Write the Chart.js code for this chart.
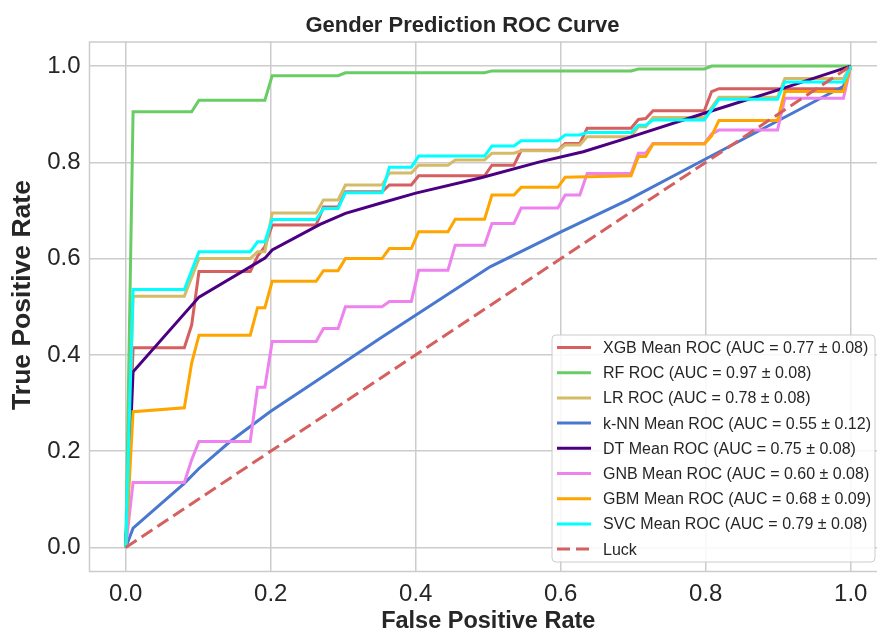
<!DOCTYPE html>
<html>
<head>
<meta charset="utf-8">
<title>Gender Prediction ROC Curve</title>
<script src="https://cdn.jsdelivr.net/npm/chart.js@4.4.1/dist/chart.umd.min.js"></script>
<style>
  html, body { margin: 0; padding: 0; background: #fff; overflow: hidden; }
  #wrap { width: 877px; height: 633px; overflow: hidden; }
  #box { width: 900px; height: 633px; position: relative; }
</style>
</head>
<body>
<div id="wrap"><div id="box"><canvas id="rocChart"></canvas></div></div>
<script>
// values (mean ROC, fpr / tpr pairs)
const xgbFpr = [0, 0.0101, 0.0808, 0.0909, 0.101, 0.1717, 0.1818, 0.1919, 0.202, 0.2626, 0.2727, 0.2929, 0.303, 0.3535, 0.3636, 0.3939, 0.404, 0.4949, 0.5051, 0.5354, 0.5455, 0.596, 0.6061, 0.6263, 0.6364, 0.697, 0.7071, 0.7172, 0.7273, 0.798, 0.8081, 0.8182, 0.9899, 1.0];
const xgbTpr = [0, 0.415, 0.415, 0.462, 0.573, 0.573, 0.605, 0.625, 0.670, 0.670, 0.707, 0.707, 0.739, 0.739, 0.753, 0.753, 0.772, 0.772, 0.794, 0.794, 0.825, 0.825, 0.839, 0.839, 0.871, 0.871, 0.889, 0.891, 0.907, 0.907, 0.947, 0.953, 0.953, 1.0];

const rfFpr = [0, 0.0101, 0.0909, 0.101, 0.1919, 0.202, 0.2929, 0.303, 0.4949, 0.5051, 0.697, 0.7071, 0.798, 0.8081, 1.0];
const rfTpr = [0, 0.905, 0.905, 0.929, 0.929, 0.980, 0.980, 0.986, 0.986, 0.990, 0.990, 0.994, 0.994, 1.0, 1.0];

const lrFpr = [0, 0.0101, 0.0808, 0.101, 0.1717, 0.1818, 0.1919, 0.202, 0.2626, 0.2727, 0.2929, 0.303, 0.3535, 0.3636, 0.3939, 0.404, 0.4444, 0.4545, 0.4949, 0.5051, 0.5354, 0.5455, 0.596, 0.6061, 0.6263, 0.6364, 0.697, 0.7071, 0.7172, 0.7273, 0.798, 0.8182, 0.899, 0.9091, 0.9899, 1.0];
const lrTpr = [0, 0.522, 0.522, 0.600, 0.600, 0.614, 0.614, 0.695, 0.695, 0.722, 0.722, 0.753, 0.753, 0.778, 0.778, 0.794, 0.794, 0.805, 0.805, 0.819, 0.819, 0.824, 0.824, 0.836, 0.836, 0.853, 0.853, 0.874, 0.874, 0.893, 0.893, 0.935, 0.935, 0.974, 0.974, 1.0];

const knnFpr = [0, 0.0101, 0.0808, 0.101, 0.144, 0.199, 0.268, 0.351, 0.5025, 0.601, 0.693, 0.801, 0.9899, 1.0];
const knnTpr = [0, 0.040, 0.133, 0.164, 0.220, 0.282, 0.351, 0.4345, 0.583, 0.656, 0.722, 0.808, 0.958, 1.0];

const dtFpr = [0, 0.0101, 0.101, 0.192, 0.202, 0.268, 0.303, 0.351, 0.40, 0.49, 0.571, 0.631, 0.697, 0.798, 0.899, 1.0];
const dtTpr = [0, 0.365, 0.520, 0.601, 0.618, 0.671, 0.694, 0.715, 0.736, 0.768, 0.801, 0.822, 0.853, 0.902, 0.950, 1.0];

const gnbFpr = [0, 0.0101, 0.0808, 0.0909, 0.101, 0.1717, 0.1818, 0.1919, 0.202, 0.2626, 0.2727, 0.2929, 0.303, 0.3535, 0.3636, 0.3939, 0.404, 0.4444, 0.4545, 0.4949, 0.5051, 0.5354, 0.5455, 0.596, 0.6061, 0.6263, 0.6364, 0.697, 0.7071, 0.7172, 0.7273, 0.798, 0.8081, 0.8182, 0.899, 0.9091, 0.9899, 1.0];
const gnbTpr = [0, 0.135, 0.135, 0.182, 0.220, 0.220, 0.333, 0.333, 0.428, 0.428, 0.455, 0.455, 0.500, 0.500, 0.511, 0.511, 0.576, 0.576, 0.628, 0.628, 0.673, 0.673, 0.705, 0.705, 0.732, 0.732, 0.777, 0.777, 0.819, 0.819, 0.839, 0.839, 0.859, 0.867, 0.867, 0.933, 0.933, 1.0];

const gbmFpr = [0, 0.0101, 0.0808, 0.0909, 0.101, 0.1717, 0.1818, 0.1919, 0.202, 0.2626, 0.2727, 0.2929, 0.303, 0.3535, 0.3636, 0.3939, 0.404, 0.4444, 0.4545, 0.4949, 0.5051, 0.5354, 0.5455, 0.596, 0.6061, 0.697, 0.7071, 0.7172, 0.7273, 0.798, 0.8081, 0.8182, 0.899, 0.9091, 0.9899, 1.0];
const gbmTpr = [0, 0.282, 0.290, 0.383, 0.441, 0.441, 0.498, 0.498, 0.553, 0.553, 0.575, 0.575, 0.600, 0.600, 0.621, 0.621, 0.656, 0.656, 0.682, 0.682, 0.732, 0.732, 0.748, 0.748, 0.769, 0.772, 0.812, 0.812, 0.838, 0.838, 0.855, 0.887, 0.887, 0.947, 0.947, 1.0];

const svcFpr = [0, 0.0101, 0.0808, 0.101, 0.1717, 0.1818, 0.1919, 0.202, 0.2626, 0.2727, 0.2929, 0.303, 0.3535, 0.3636, 0.3939, 0.404, 0.4949, 0.5051, 0.5354, 0.5455, 0.596, 0.6061, 0.6263, 0.6364, 0.697, 0.7071, 0.7172, 0.7273, 0.798, 0.8182, 0.899, 0.9091, 0.9899, 1.0];
const svcTpr = [0, 0.536, 0.536, 0.614, 0.614, 0.635, 0.635, 0.681, 0.681, 0.704, 0.704, 0.737, 0.737, 0.790, 0.790, 0.813, 0.813, 0.834, 0.834, 0.845, 0.845, 0.857, 0.857, 0.862, 0.862, 0.877, 0.877, 0.888, 0.888, 0.931, 0.931, 0.967, 0.967, 1.0];

const luckFpr = [0, 1];
const luckTpr = [0, 1];

const seriesLabels = [
    'XGB Mean ROC (AUC = 0.77 \u00b1 0.08)',
    'RF ROC (AUC = 0.97 \u00b1 0.08)',
    'LR ROC (AUC = 0.78 \u00b1 0.08)',
    'k-NN Mean ROC (AUC = 0.55 \u00b1 0.12)',
    'DT Mean ROC (AUC = 0.75 \u00b1 0.08)',
    'GNB Mean ROC (AUC = 0.60 \u00b1 0.08)',
    'GBM Mean ROC (AUC = 0.68 \u00b1 0.09)',
    'SVC Mean ROC (AUC = 0.79 \u00b1 0.08)',
    'Luck'
];
const axisTicks = [0, 0.2, 0.4, 0.6, 0.8, 1.0];

// styling
const seriesColors = ['#d65f5f', '#6acc64', '#d5bb67', '#4878d0', '#4b0082', '#ee82ee', '#ffa500', '#00ffff', '#d65f5f'];
const seriesFpr = [xgbFpr, rfFpr, lrFpr, knnFpr, dtFpr, gnbFpr, gbmFpr, svcFpr, luckFpr];
const seriesTpr = [xgbTpr, rfTpr, lrTpr, knnTpr, dtTpr, gnbTpr, gbmTpr, svcTpr, luckTpr];
const LUCK_DASH = [13, 6];
const LINE_W = 3;
const GRID = '#cccccc';
const TEXT = '#262626';
const FONT = '"Liberation Sans", Arial, Helvetica, sans-serif';

const datasets = seriesLabels.map((label, i) => ({
    label: label,
    data: seriesFpr[i].map((x, j) => ({ x: x, y: seriesTpr[i][j] })),
    borderColor: seriesColors[i],
    backgroundColor: seriesColors[i],
    borderWidth: LINE_W,
    borderDash: i === 8 ? LUCK_DASH : [],
    showLine: true,
    pointRadius: 0,
    pointHoverRadius: 0,
    tension: 0,
    fill: false,
    // later series sit on top, like matplotlib
    order: seriesLabels.length - 1 - i
}));

// frame, titles and in-plot legend
const rocDecor = {
    id: 'rocDecor',
    beforeDatasetsDraw(chart) {
        const { ctx, chartArea: a } = chart;
        ctx.save();
        ctx.strokeStyle = GRID;
        ctx.lineWidth = 1.5;
        ctx.beginPath();
        ctx.moveTo(a.right, a.top);
        ctx.lineTo(a.left, a.top);
        ctx.lineTo(a.left, a.bottom);
        ctx.lineTo(a.right, a.bottom);
        ctx.stroke();
        ctx.restore();
    },
    afterDraw(chart) {
        const ctx = chart.ctx;
        ctx.save();
        ctx.fillStyle = TEXT;
        ctx.font = 'bold 22px ' + FONT;
        ctx.textAlign = 'center';
        ctx.textBaseline = 'alphabetic';
        ctx.fillText('Gender Prediction ROC Curve', 462.5, 32);

        // y axis label
        ctx.save();
        ctx.translate(23, 295);
        ctx.rotate(-Math.PI / 2);
        ctx.font = 'bold 26.5px ' + FONT;
        ctx.textBaseline = 'middle';
        ctx.fillText('True Positive Rate', 0, 0);
        ctx.restore();

        // legend box
        const L = 552, T = 335, R = 875, B = 562, r = 4;
        ctx.beginPath();
        ctx.moveTo(L + r, T);
        ctx.arcTo(R, T, R, B, r);
        ctx.arcTo(R, B, L, B, r);
        ctx.arcTo(L, B, L, T, r);
        ctx.arcTo(L, T, R, T, r);
        ctx.closePath();
        ctx.fillStyle = 'rgba(255,255,255,0.85)';
        ctx.fill();
        ctx.strokeStyle = GRID;
        ctx.lineWidth = 1;
        ctx.stroke();

        ctx.font = '16px ' + FONT;
        ctx.textAlign = 'left';
        ctx.textBaseline = 'middle';
        seriesLabels.forEach((label, i) => {
            const y = 347.5 + i * 25.2;
            ctx.beginPath();
            ctx.setLineDash(i === 8 ? LUCK_DASH : []);
            ctx.strokeStyle = seriesColors[i];
            ctx.lineWidth = LINE_W;
            ctx.moveTo(557, y);
            ctx.lineTo(591, y);
            ctx.stroke();
            ctx.setLineDash([]);
            ctx.fillStyle = TEXT;
            ctx.fillText(label, 603, y + 1);
        });
        ctx.restore();
    }
};

const ctx = document.getElementById('rocChart').getContext('2d');
new Chart(ctx, {
    type: 'scatter',
    data: { datasets: datasets },
    options: {
        responsive: true,
        maintainAspectRatio: false,
        animation: false,
        events: [],
        layout: { padding: { top: 42, right: 13, bottom: 0, left: 0 } },
        plugins: {
            legend: { display: false },
            title: { display: false },
            tooltip: { enabled: false }
        },
        scales: {
            x: {
                type: 'linear',
                min: -0.05,
                max: 1.05,
                afterBuildTicks: (scale) => { scale.ticks = axisTicks.map(v => ({ value: v })); },
                afterFit: (scale) => { scale.height = 61.5; },
                grid: { color: GRID, lineWidth: 1.5, drawTicks: false },
                border: { display: false },
                ticks: {
                    color: TEXT,
                    font: { family: FONT, size: 24 },
                    padding: 8,
                    maxRotation: 0,
                    callback: (v) => v.toFixed(1)
                },
                title: {
                    display: true,
                    text: 'False Positive Rate',
                    color: TEXT,
                    font: { family: FONT, size: 23.5, weight: 'bold', lineHeight: 1 },
                    padding: { top: 0, bottom: 0 }
                }
            },
            y: {
                type: 'linear',
                min: -0.05,
                max: 1.05,
                afterBuildTicks: (scale) => { scale.ticks = axisTicks.map(v => ({ value: v })); },
                afterFit: (scale) => { scale.width = 89.5; },
                grid: { color: GRID, lineWidth: 1.5, drawTicks: false },
                border: { display: false },
                ticks: {
                    color: TEXT,
                    font: { family: FONT, size: 24 },
                    padding: 9,
                    callback: (v) => v.toFixed(1)
                },
                title: { display: false }
            }
        }
    },
    plugins: [rocDecor]
});
</script>
</body>
</html>
